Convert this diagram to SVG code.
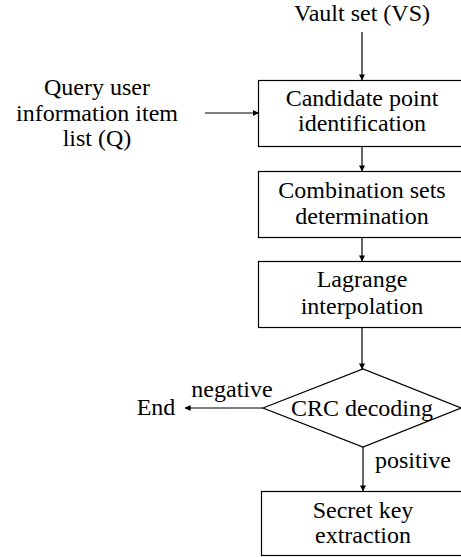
<svg xmlns="http://www.w3.org/2000/svg" width="461" height="557" viewBox="0 0 461 557">
<style>
text{font-family:"Liberation Serif","Times New Roman","DejaVu Serif",serif;font-size:24px;fill:#000;text-anchor:middle}
.b{fill:#fff;stroke:#000;stroke-width:1.2}
.c{stroke:#000;stroke-width:1.2;fill:none;marker-end:url(#ah)}
</style>
<defs><marker id="ah" viewBox="0 0 8 8" refX="7.5" refY="4" markerWidth="6" markerHeight="6" markerUnits="userSpaceOnUse" orient="auto"><path d="M0,0L8,4L0,8z" fill="#000"/></marker></defs>
<g id="connectors">
<line class="c" x1="362" y1="32" x2="362" y2="80"/>
<line class="c" x1="205" y1="113" x2="258.5" y2="113"/>
<line class="c" x1="362" y1="146" x2="362" y2="171"/>
<line class="c" x1="362" y1="237" x2="362" y2="261"/>
<line class="c" x1="362" y1="327" x2="362" y2="369"/>
<line class="c" x1="263" y1="408" x2="185" y2="408"/>
<line class="c" x1="363" y1="447" x2="363" y2="491"/>
<text x="232" y="397">negative</text>
<text x="413" y="468">positive</text>
</g>
<g id="vs"><text x="362" y="21">Vault set (VS)</text></g>
<g id="q"><text x="97" y="95">Query user</text><text x="97" y="121">information item</text><text x="97" y="146">list (Q)</text></g>
<g id="n1"><rect class="b" x="258.5" y="80.5" width="210" height="66"/><text x="362" y="106">Candidate point</text><text x="362" y="131">identification</text></g>
<g id="n2"><rect class="b" x="258.5" y="171.5" width="210" height="66"/><text x="362" y="198">Combination sets</text><text x="362" y="224">determination</text></g>
<g id="n3"><rect class="b" x="258.5" y="261.5" width="210" height="66"/><text x="362" y="287">Lagrange</text><text x="362" y="314">interpolation</text></g>
<g id="d"><polygon class="b" points="263,408 363,369 461,408 363,447"/><text x="362" y="416">CRC decoding</text></g>
<g id="end"><text x="156" y="415">End</text></g>
<g id="n4"><rect class="b" x="261.5" y="491.5" width="210" height="64"/><text x="363" y="518">Secret key</text><text x="363" y="543">extraction</text></g>
</svg>
